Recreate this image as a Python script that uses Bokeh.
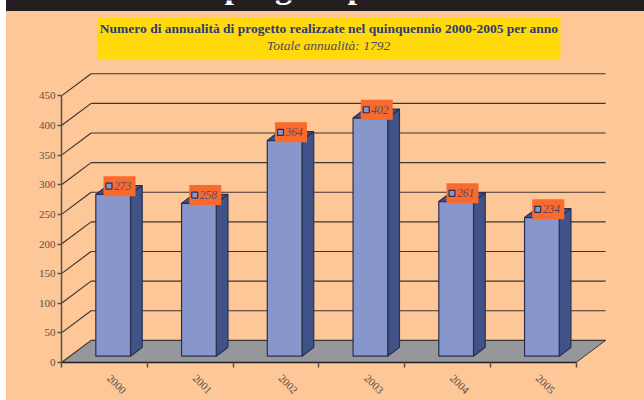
from math import pi
from bokeh.embed import file_html
from bokeh.resources import INLINE
from bokeh.plotting import figure
from bokeh.models import Range1d, FixedTicker, BoxAnnotation, Label, LinearAxis
from bokeh.core.properties import value

years = ["2000", "2001", "2002", "2003", "2004", "2005"]
annualita = [273, 258, 364, 402, 261, 234]
value_ticks = [0, 50, 100, 150, 200, 250, 300, 350, 400, 450]
title_line = "Numero di annualità di progetto realizzate nel quinquennio 2000-2005 per anno"
subtitle_line = "Totale annualità: 1792"
header_line = "progetti p"

W, H = 644, 400
X0, Y0 = 61, 363              # screen position of the axes' origin
SX, SY = 85.75, 0.5941        # px per category, px per unit
WALL_DX, WALL_DY = 29.6, 22.2 # wall depth in px
BAR_L, BAR_W = 34.3, 34.7
BAR_DX, BAR_DY = 11.7, 9.0
BASE = 6.3

def ux(px): return px / SX
def uy(px): return px / SY

FONT = "Liberation Serif"
INK = "#3b3533"
PEACH = "#fdc797"
DARK = "#231f20"

p = figure(width=W, height=H, output_backend="svg", toolbar_location=None,
           x_range=Range1d(0, (W - X0) / SX), y_range=Range1d(0, Y0 / SY),
           x_axis_type=None, y_axis_type=None,
           min_border_left=X0, min_border_right=0, min_border_top=0,
           min_border_bottom=H - Y0,
           background_fill_color=None, border_fill_color=None, outline_line_color=None)
p.styles = {"position": "fixed", "left": "0px", "top": "0px",
            "background": f"linear-gradient(to right, white 6px, transparent 6px), "
                          f"linear-gradient(to bottom, {DARK} 11px, {PEACH} 11px)"}
p.xgrid.visible = False
p.ygrid.visible = False

# axes
ya = LinearAxis(ticker=FixedTicker(ticks=value_ticks), bounds=(0, 450))
ya.axis_line_color = "#5a504a"; ya.axis_line_width = 1.5
ya.major_tick_line_color = "#5a504a"; ya.major_tick_out = 4; ya.major_tick_in = 0; ya.major_tick_line_width = 1.5
ya.minor_tick_line_color = None
ya.major_label_text_font = FONT; ya.major_label_text_font_size = "11px"; ya.major_label_text_color = "#5a504a"
ya.major_label_standoff = 2
p.add_layout(ya, "left")

centers = [i + 0.55 for i in range(len(years))]
xa = LinearAxis(ticker=FixedTicker(ticks=centers, minor_ticks=list(range(len(years) + 1))), bounds=(0, 6))
xa.major_label_overrides = {c: y for c, y in zip(centers, years)}
xa.axis_line_color = DARK; xa.axis_line_width = 1.5
xa.major_tick_line_color = None
xa.minor_tick_line_color = "#5a504a"; xa.minor_tick_out = 5; xa.minor_tick_in = 0; xa.minor_tick_line_width = 1.5
xa.major_label_orientation = -pi / 4
xa.major_label_text_font = FONT; xa.major_label_text_font_size = "11px"; xa.major_label_text_color = "#5a504a"
xa.major_label_standoff = 8
p.add_layout(xa, "below")

# header and title (Label screen units count from the frame's lower left corner)
def lx(px): return px - X0
def ly(py): return Y0 - py

p.add_layout(BoxAnnotation(left=97, right=560, top=17, bottom=59, left_units="canvas", right_units="canvas",
                           top_units="canvas", bottom_units="canvas", fill_color="#ffd90a", fill_alpha=1, line_color=None))
p.add_layout(Label(x=lx(224), y=ly(-13), x_units="screen", y_units="screen", text=header_line, text_align="left",
                   text_baseline="alphabetic", text_font=FONT, text_font_style="bold", text_font_size="34px", text_color="white"))
p.add_layout(Label(x=lx(328.5), y=ly(29), x_units="screen", y_units="screen", text=title_line, text_align="center",
                   text_baseline="middle", text_font=FONT, text_font_style="bold", text_font_size="13.5px", text_color="#2e3a78"))
p.add_layout(Label(x=lx(328), y=ly(45.5), x_units="screen", y_units="screen", text=subtitle_line, text_align="center",
                   text_baseline="middle", text_font=FONT, text_font_style="italic", text_font_size="13.5px", text_color="#4a4a60"))

# floor and back wall
dx, dy = ux(WALL_DX), uy(WALL_DY)
right = len(years)
p.patch([0, dx, right + dx, right], [0, dy, dy, 0], fill_color="#96979a", line_color=None)
for t in value_ticks:
    p.line([0, dx], [t, t + dy], line_color=INK, line_width=1.2)
    p.line([dx, right + dx], [t + dy, t + dy], line_color=INK, line_width=1.2)
p.line([right, right + dx], [0, dy], line_color=INK, line_width=1)

# bars
for i, v in enumerate(annualita):
    l = i + ux(BAR_L); r = l + ux(BAR_W)
    b = uy(BASE); t = v + b
    ddx, ddy = ux(BAR_DX), uy(BAR_DY)
    p.patch([r, r + ddx, r + ddx, r], [b, b + ddy, t + ddy, t], fill_color="#405388", line_color="#2a2f4f", line_width=1.2)
    p.patch([l, l + ddx, r + ddx, r], [t, t + ddy, t + ddy, t], fill_color="#405388", line_color="#2a2f4f", line_width=1.2)
    p.quad(left=l, right=r, bottom=b, top=t, fill_color="#8796cb", line_color="#2a2f4f", line_width=1.2)
    cx = l + ux(23.7); cy = t + uy(8.3)
    p.rect(x=cx, y=cy, width=32, height=20, width_units="screen", height_units="screen",
           fill_color="#f96a2c", line_color=None)
    p.rect(x=cx - ux(10.5), y=cy, width=6, height=6, width_units="screen", height_units="screen",
           fill_color="#8796cb", line_color="#2a2f4f", line_width=1.2)
    p.text(x=cx - ux(5.5), y=cy, text=[str(v)], text_font=value(FONT), text_font_style="italic", text_font_size="11.5px",
           text_color="#57496e", text_align="left", text_baseline="middle")

open("out.html", "w").write(file_html(p, INLINE))
